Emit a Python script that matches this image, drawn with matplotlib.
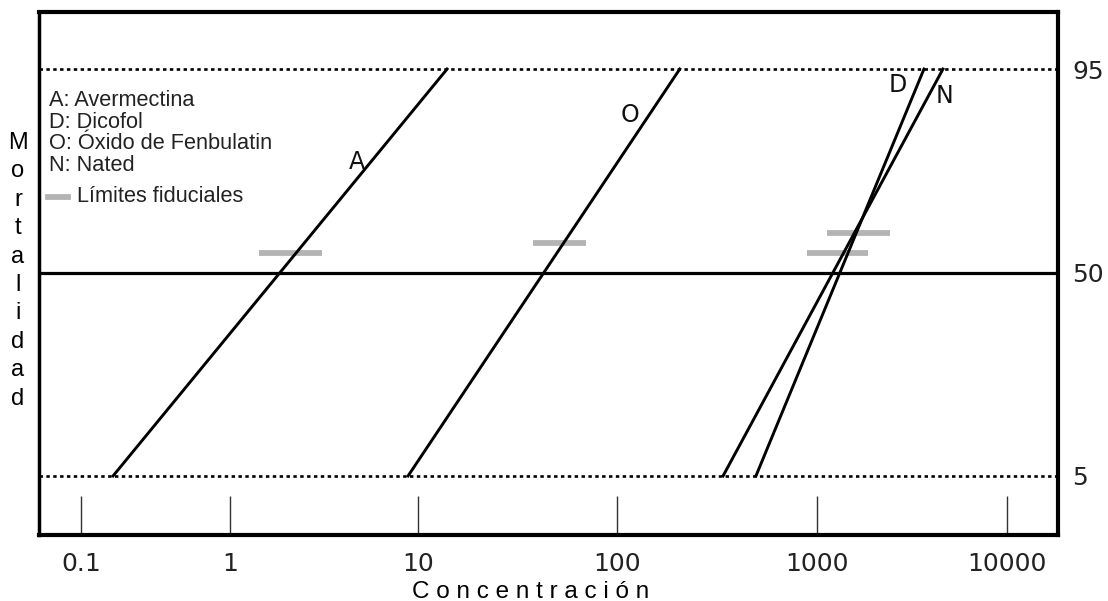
import numpy as np
import matplotlib
matplotlib.use("Agg")
import matplotlib.pyplot as plt
from matplotlib.ticker import NullLocator
from statistics import NormalDist

# --- datos (concentraciones) ---
compuestos = ["A", "O", "D", "N"]
conc_5 = [0.164, 8.85, 495, 339]        # concentración al 5 % de mortalidad
conc_95 = [14.0, 206, 3656, 4603]       # concentración al 95 % de mortalidad
fid_inf = [1.43, 37.8, 1129, 891]       # límites fiduciales
fid_sup = [3.09, 69.9, 2423, 1854]
fid_nivel = [56.3, 59.4, 62.5, 56.3]    # altura a la que se dibuja cada barra
niveles = [5, 50, 95]
x_ticks = [0.1, 1, 10, 100, 1000, 10000]
x_ticklabels = ["0.1", "1", "10", "100", "1000", "10000"]
leyenda = ["A: Avermectina", "D: Dicofol", "O: Óxido de Fenbulatin", "N: Nated"]

# eje x dibujado a mano: décadas con anchos desiguales
DECADAS = np.arange(-2, 6)
DECADA_POS = np.array([-68, 81, 230, 418, 617, 817, 1007, 1197], float)


def x_fwd(x):
    x = np.clip(np.asarray(x, float), 1e-9, None)
    return np.interp(np.log10(x), DECADAS, DECADA_POS)


def x_inv(p):
    return 10 ** np.interp(np.asarray(p, float), DECADA_POS, DECADAS)


_nd = NormalDist()
_ppf = np.vectorize(lambda v: _nd.inv_cdf(v / 100.0), otypes=[float])
_cdf = np.vectorize(lambda v: _nd.cdf(v) * 100.0, otypes=[float])


def probit_fwd(p):
    return _ppf(np.clip(np.asarray(p, float), 1e-6, 100 - 1e-6))


def probit_inv(z):
    return _cdf(np.asarray(z, float))


W, H = 1108, 601
fig = plt.figure(figsize=(W / 100, H / 100), dpi=100)
ax = fig.add_axes([39 / W, (H - 535) / H, (1058 - 39) / W, (535 - 12) / H])

ax.set_xscale("function", functions=(x_fwd, x_inv))
ax.set_yscale("function", functions=(probit_fwd, probit_inv))
ax.set_xlim(x_inv(39), x_inv(1058))
ax.set_ylim(probit_inv(-2.122), probit_inv(2.106))

# líneas de referencia
ax.axhline(50, color="black", lw=2.3, zorder=2)
for n in (5, 95):
    ax.axhline(n, color="black", lw=1.9, ls=(0, (1.3, 1.3)), zorder=2)

# límites fiduciales
ax.hlines(fid_nivel, fid_inf, fid_sup, color="#b4b4b4", lw=4.2, zorder=3)

# rectas probit
for c, a, b in zip(compuestos, conc_5, conc_95):
    ax.plot([a, b], [5, 95], color="black", lw=2.1, zorder=4)

# etiquetas de las rectas
etiquetas = {"A": (0.312, 0.713), "O": (0.580, 0.803),
             "D": (0.843, 0.860), "N": (0.889, 0.839)}
for c, (ex, ey) in etiquetas.items():
    ax.text(ex, ey, c, transform=ax.transAxes, ha="center", va="center",
            fontsize=17, color="#111111")

# ejes
for s in ax.spines.values():
    s.set_linewidth(3.0)
ax.spines["left"].set_linewidth(2.5)

ax.set_xticks(x_ticks, x_ticklabels)
ax.xaxis.set_minor_locator(NullLocator())
ax.tick_params(axis="x", direction="in", length=28, width=1.0, color="#333333",
               labelsize=18, pad=12, labelcolor="#222222")
for i in (0, len(x_ticks) - 1):
    ax.xaxis.get_major_ticks()[i].tick1line.set_color("#999999")

ax.yaxis.tick_right()
ax.set_yticks(niveles, [str(n) for n in niveles])
ax.yaxis.set_minor_locator(NullLocator())
ax.tick_params(axis="y", length=0, pad=10, labelsize=18, labelcolor="#222222")

# leyenda en texto
base = [106, 127.7, 149.4, 171]
for txt, yb in zip(leyenda, base):
    fig.text(49 / W, 1 - yb / H, txt, ha="left", va="baseline",
             fontsize=15.7, family="Liberation Sans", color="#222222")
ax.plot([0.0088, 0.0285], [0.646, 0.646], transform=ax.transAxes,
        color="#b4b4b4", lw=4.2, clip_on=False)
fig.text(77 / W, 1 - 202 / H, "Límites fiduciales", ha="left", va="baseline",
         fontsize=15.7, family="Liberation Sans", color="#222222")

# títulos de ejes
for i, ch in enumerate("Mortalidad"):
    fig.text(18 / W, 1 - (143 + i * 28.4) / H, ch, ha="center", va="center",
             fontsize=17, family="Liberation Sans")
fig.text(531 / W, 1 - 598 / H, " ".join("Concentración"), ha="center",
         va="baseline", fontsize=17.5, family="Liberation Sans")

fig.savefig("out.png", dpi=100)
